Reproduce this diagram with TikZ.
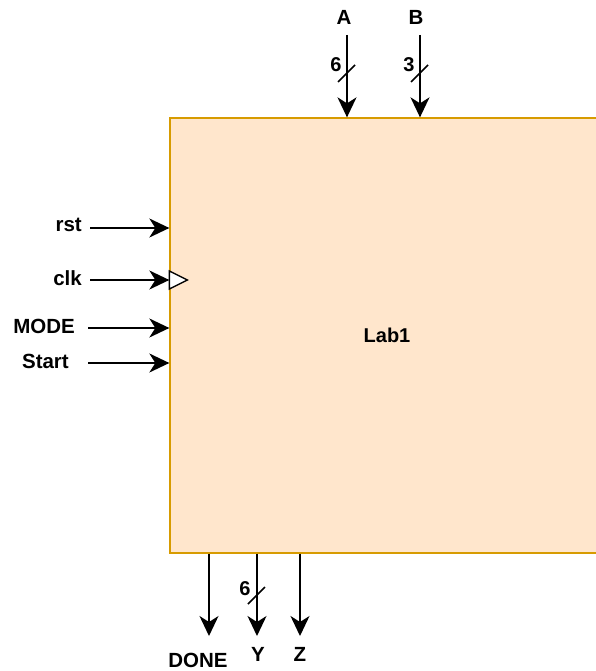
\documentclass[tikz,border=0pt]{standalone}
\usepackage{fontspec}
\setmainfont{Liberation Sans}
\usepackage{tikz}
\usetikzlibrary{arrows.meta, positioning, calc}
\definecolor{blockfill}{HTML}{FFE6CC}
\definecolor{blockdraw}{HTML}{D79B00}
\tikzset{
  block/.style={draw=blockdraw, fill=blockfill, line width=1.3pt,
                font=\fontsize{20}{24}\selectfont\bfseries},
  sig/.style={-{Stealth[length=20pt, width=19pt, inset=6pt]}, line width=1.7pt},
  pin/.style={font=\fontsize{20.5}{24}\selectfont\bfseries, inner sep=0pt},
  busw/.style={font=\fontsize{20}{24}\selectfont\bfseries, inner sep=0pt},
  slash/.style={line width=1.5pt},
  clock/.style={draw, fill=white, line width=1.4pt},
}
\begin{document}
\begin{tikzpicture}[x=1pt, y=-1pt]
  \useasboundingbox (0,0) rectangle (595,671);

  % --- Block ---
  \node[block, minimum width=434, minimum height=435] (lab1) at (387,335.5) {Lab1};

  % --- Inputs (left) ---
  \node[pin, anchor=east] (rst)   at (82,225) {rst};
  \node[pin, anchor=east] (clk)   at (82,278) {clk};
  \node[pin, anchor=east] (mode)  at (75,326) {MODE};
  \node[pin, anchor=east] (start) at (69,361) {Start};
  \coordinate (rst-in)   at (90,228);
  \coordinate (clk-in)   at (90,280);
  \coordinate (mode-in)  at (88,328);
  \coordinate (start-in) at (88,363);
  \draw[sig] (rst-in) -- (rst-in -| lab1.west);
  \draw[sig] (clk-in) -- (clk-in -| lab1.west);
  \draw[sig] (mode-in) -- (mode-in -| lab1.west);
  \draw[sig] (start-in) -- (start-in -| lab1.west);

  % clock marker
  \draw[clock] (clk-in -| lab1.west) ++(0,-9) -- ++(18,9) -- ++(-18,9) -- cycle;

  % --- Inputs (top) ---
  \node[pin] (a) at (344,17) {A};
  \node[pin] (b) at (416,17) {B};
  \coordinate (a-in) at (347,35);
  \coordinate (b-in) at (420,35);
  \draw[sig] (a-in) -- (a-in |- lab1.north);
  \draw[sig] (b-in) -- (b-in |- lab1.north);
  \draw[slash] (338,82) -- (355,65);
  \draw[slash] (411,82) -- (428,65);
  \node[busw] (a-w) at (336,65) {6};
  \node[busw] (b-w) at (409,65) {3};

  % --- Outputs (bottom) ---
  \coordinate (done-out) at (209,636);
  \coordinate (y-out)    at (257,636);
  \coordinate (z-out)    at (300,636);
  \draw[sig] (done-out |- lab1.south) -- (done-out);
  \draw[sig] (y-out |- lab1.south) -- (y-out);
  \draw[sig] (z-out |- lab1.south) -- (z-out);
  \node[pin] (done) at (198,660) {DONE};
  \node[pin] (y)    at (258,654) {Y};
  \node[pin] (z)    at (300,654) {Z};
  \draw[slash] (248,604) -- (265,587);
  \node[busw] (y-w) at (245,589) {6};

\end{tikzpicture}
\end{document}
